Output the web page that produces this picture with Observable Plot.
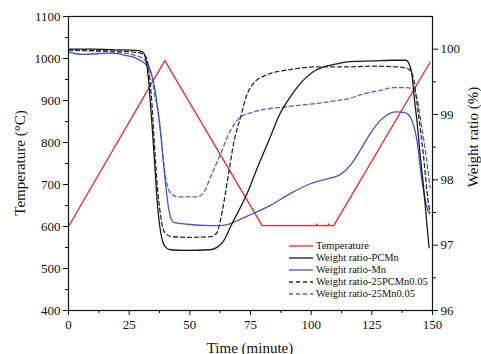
<!DOCTYPE html>
<html>
<head>
<meta charset="utf-8">
<script src="https://cdn.jsdelivr.net/npm/d3@7"></script>
<script src="https://cdn.jsdelivr.net/npm/@observablehq/plot@0.6"></script>
<style>
  body { margin: 0; background: #fff; }
  #wrap { position: relative; width: 481px; height: 354px; overflow: hidden; font-family: "Liberation Serif", "Times New Roman", serif; }
  #wrap svg, #wrap svg text { font-family: "Liberation Serif", "Times New Roman", serif !important; }
  .title { position: absolute; font-size: 15px; color: #111; white-space: nowrap; font-family: "Liberation Serif", serif; }
  #legend { position: absolute; left: 289px; top: 240px; font-size: 10.5px; color: #111; line-height: 12px; font-family: "Liberation Serif", serif; }
  #legend div { display: flex; align-items: center; white-space: nowrap; }
  #legend svg { margin-right: 3px; }
</style>
</head>
<body>
<div id="wrap"></div>
<script>
// ---- data ----
const xTicks = [0, 25, 50, 75, 100, 125, 150];
const tempTicks = [400, 500, 600, 700, 800, 900, 1000, 1100];
const weightTicks = [96, 97, 98, 99, 100];

const tTemp = [0, 39.7, 79.8, 102.1, 102.4, 102.7, 106.9, 107.2, 107.5, 109.3, 149];
const vTemp = [600, 995, 602, 602, 606, 602, 602, 606, 602, 602, 991];

const tPCMn = [0, 10, 20, 28, 30.5, 31.5, 32.5, 33.5, 34.5, 35.5, 36.5, 37.5, 38.5, 40, 42, 48, 58.5, 61.3, 64, 67, 73.6, 78, 83.2, 87, 91.4, 95, 98.3, 101.5, 105.1, 110, 116, 125.6, 134, 139, 140.5, 141.5, 142.5, 143.6, 145, 146.3, 147.5, 148.6];
const wPCMn = [100.0, 100.0, 99.99, 99.98, 99.96, 99.9, 99.7, 99.3, 98.8, 98.25, 97.7, 97.32, 97.1, 96.97, 96.93, 96.92, 96.93, 96.97, 97.07, 97.3, 97.79, 98.2, 98.66, 99.0, 99.27, 99.45, 99.58, 99.67, 99.73, 99.77, 99.81, 99.82, 99.83, 99.83, 99.76, 99.62, 99.25, 98.9, 98.35, 97.9, 97.4, 96.96];

const tPCMn05 = [0, 10, 20, 28, 31, 32.5, 33.5, 34.5, 35.5, 36.5, 37.5, 38.5, 40, 42.8, 50, 58.5, 60, 61.3, 62.7, 64, 66, 68, 70.9, 73.5, 76.3, 80, 83.2, 90, 103.8, 116, 125, 135, 140, 141.5, 142.2, 143.8, 146.2, 148.3, 149];
const wPCMn05 = [99.99, 99.98, 99.97, 99.95, 99.92, 99.82, 99.55, 99.1, 98.5, 97.95, 97.58, 97.33, 97.18, 97.13, 97.12, 97.13, 97.15, 97.2, 97.4, 97.65, 98.1, 98.55, 98.96, 99.3, 99.48, 99.58, 99.63, 99.68, 99.73, 99.73, 99.74, 99.73, 99.7, 99.63, 99.55, 99.12, 98.4, 97.65, 97.5];

const tMn = [0, 3, 6, 12, 18, 24, 28, 30, 31.5, 32.6, 33.9, 35, 36, 37, 38, 39, 40, 41.4, 43.4, 49, 58.5, 62.7, 66.8, 70.9, 77, 83.2, 91.4, 99.7, 105, 109.3, 112, 116.1, 120.2, 124.4, 128.5, 132.6, 135, 138.7, 140, 141.5, 143.6, 145.6, 147.7, 148.8];
const wMn = [99.96, 99.93, 99.92, 99.93, 99.94, 99.9, 99.86, 99.82, 99.78, 99.74, 99.66, 99.5, 99.3, 99.0, 98.71, 98.3, 97.94, 97.53, 97.35, 97.32, 97.3, 97.3, 97.33, 97.4, 97.5, 97.61, 97.79, 97.94, 98.0, 98.04, 98.08, 98.22, 98.45, 98.71, 98.91, 99.02, 99.04, 99.03, 99.0, 98.91, 98.6, 98.0, 97.58, 97.48];

const tMn05 = [0, 10, 20, 28, 31, 33, 34.5, 35.5, 36.4, 37.3, 38.7, 40, 41.4, 43, 44.8, 53, 55.8, 58.5, 62.7, 66.8, 70.9, 76.3, 90, 102.4, 108, 112, 116.1, 120.2, 128.5, 134, 139, 141.5, 143.6, 145.6, 147.7, 149];
const wMn05 = [99.98, 99.97, 99.95, 99.9, 99.85, 99.75, 99.55, 99.3, 99.15, 98.96, 98.45, 98.04, 97.84, 97.77, 97.74, 97.74, 97.81, 98.04, 98.4, 98.76, 98.96, 99.04, 99.12, 99.17, 99.2, 99.22, 99.25, 99.3, 99.37, 99.41, 99.41, 99.4, 99.25, 98.8, 98.28, 97.88];

const seriesNames = ["Temperature", "Weight ratio-PCMn", "Weight ratio-Mn", "Weight ratio-25PCMn0.05", "Weight ratio-25Mn0.05"];
const seriesColors = ["#f0262b", "#1a1a1a", "#4156c4", "#2a2a2a", "#4e62cc"];
const seriesDash = [null, null, null, "4,3", "4,3"];

// ---- secondary axis mapping: weight ratio (96..100.5) onto temperature scale (400..1100) ----
const wDomain = [96, 100.5];
const tDomain = [400, 1100];
const w2t = d3.scaleLinear().domain(wDomain).range(tDomain);

const tempRows = tTemp.map((t, i) => ({t, v: vTemp[i]}));
const wRows = (ts, ws) => ts.map((t, i) => ({t, v: w2t(ws[i])}));

const minorX = d3.range(12.5, 150, 25);
const minorT = d3.range(450, 1100, 100);
const minorW = [96.5, 97.5, 98.5, 99.5];

const lineOpts = (i) => ({x: "t", y: "v", stroke: seriesColors[i], strokeWidth: 1.3, strokeDasharray: seriesDash[i], curve: i === 0 ? "linear" : "monotone-x"});

const chart = Plot.plot({
  width: 481,
  height: 354,
  marginLeft: 68,
  marginRight: 49,
  marginTop: 16,
  marginBottom: 44,
  style: {fontFamily: "'Liberation Serif', serif", fontSize: "13px", color: "#111", background: "white"},
  x: {domain: [0, 150]},
  y: {domain: tDomain},
  marks: [
    Plot.line(tempRows, lineOpts(0)),
    Plot.line(wRows(tMn05, wMn05), lineOpts(4)),
    Plot.line(wRows(tPCMn05, wPCMn05), lineOpts(3)),
    Plot.line(wRows(tMn, wMn), lineOpts(2)),
    Plot.line(wRows(tPCMn, wPCMn), lineOpts(1)),
    Plot.frame({stroke: "#111", strokeWidth: 1.2}),
    Plot.axisX(xTicks, {tickSize: 5, tickPadding: 4, label: null, fontSize: 13, stroke: "#111", tickFormat: (d) => String(d)}),
    Plot.axisX(minorX, {tickSize: 3, tickFormat: () => "", label: null, stroke: "#111"}),
    Plot.axisY(tempTicks, {anchor: "left", tickSize: 5, tickPadding: 3, label: null, fontSize: 13, stroke: "#111", tickFormat: (d) => String(d)}),
    Plot.axisY(minorT, {anchor: "left", tickSize: 3, tickFormat: () => "", label: null, stroke: "#111"}),
    Plot.axisY(weightTicks.map(w2t), {anchor: "right", tickSize: 5, tickPadding: 3, label: null, fontSize: 13, stroke: "#111", tickFormat: (d) => String(Math.round(w2t.invert(d)))}),
    Plot.axisY(minorW.map(w2t), {anchor: "right", tickSize: 3, tickFormat: () => "", label: null, stroke: "#111"})
  ]
});

const wrap = document.getElementById("wrap");
wrap.appendChild(chart);

// axis titles
function addTitle(text, x, y, rot) {
  const d = document.createElement("div");
  d.className = "title";
  d.textContent = text;
  d.style.left = x + "px";
  d.style.top = y + "px";
  d.style.transform = "translate(-50%, -50%)" + (rot ? " rotate(" + rot + "deg)" : "");
  wrap.appendChild(d);
}
addTitle("Temperature (°C)", 20, 163, -90);
addTitle("Weight ratio (%)", 473, 137, -90);
addTitle("Time (minute)", 250, 348, 0);

// legend
const lg = document.createElement("div");
lg.id = "legend";
seriesNames.forEach((name, i) => {
  const row = document.createElement("div");
  const s = d3.create("svg").attr("width", 24).attr("height", 10);
  s.append("line").attr("x1", 0).attr("x2", 24).attr("y1", 5).attr("y2", 5)
    .attr("stroke", seriesColors[i]).attr("stroke-width", 1.3)
    .attr("stroke-dasharray", seriesDash[i]);
  row.appendChild(s.node());
  const sp = document.createElement("span");
  sp.textContent = name;
  row.appendChild(sp);
  lg.appendChild(row);
});
wrap.appendChild(lg);
</script>
</body>
</html>
